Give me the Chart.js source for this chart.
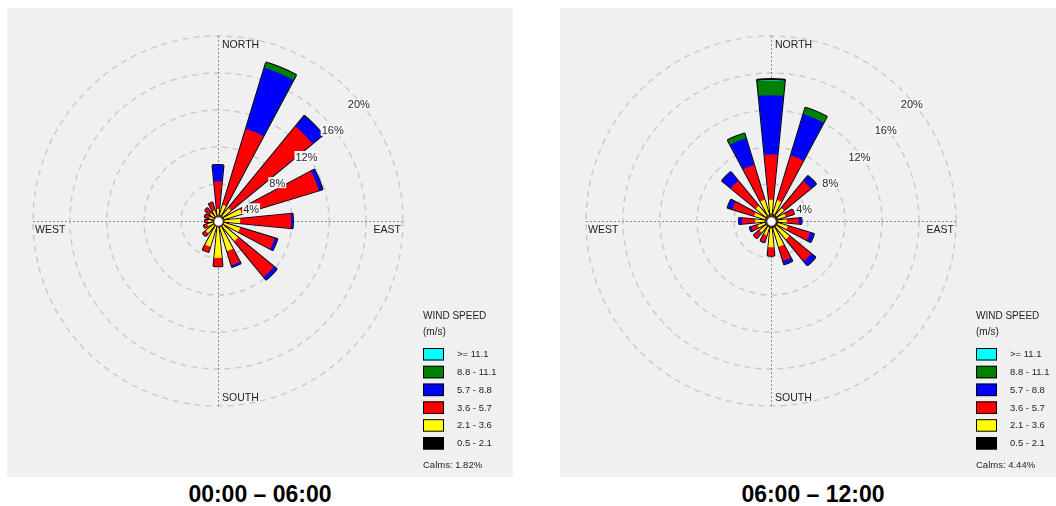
<!DOCTYPE html>
<html><head><meta charset="utf-8">
<script src="https://cdn.jsdelivr.net/npm/chart.js@4.4.1/dist/chart.umd.min.js"></script>
<style>
html,body{margin:0;padding:0;background:#fff;width:1056px;height:506px;overflow:hidden;position:relative;font-family:'Liberation Sans',Arial,sans-serif}
.panel{position:absolute;top:8px;width:506px;height:469px;background:#f0f0f0;overflow:hidden}
.panel canvas{display:block}
.title{position:absolute;top:482px;width:506px;text-align:center;font-weight:bold;font-size:23px;line-height:24px;color:#000;white-space:nowrap}
</style></head><body>
<div class="panel" style="left:7px"><canvas id="c1" width="506" height="469"></canvas></div>
<div class="panel" style="left:560px"><canvas id="c2" width="506" height="469"></canvas></div>
<div class="title" style="left:7px">00:00 – 06:00</div>
<div class="title" style="left:560px">06:00 – 12:00</div>
<script>
// ---- data ----
const directions = ['N','NNE','NE','ENE','E','ESE','SE','SSE','S','SSW','SW','WSW','W','WNW','NW','NNW'];
const speedClasses = ['0.5 - 2.1','2.1 - 3.6','3.6 - 5.7','5.7 - 8.8','8.8 - 11.1','>= 11.1'];
const ringTicks = [4, 8, 12, 16, 20];
const compassLabels = ['NORTH', 'EAST', 'SOUTH', 'WEST'];

// 00:00 - 06:00, frequency (%) per speed class and direction
const night_0p5_2p1 = [0.7,0.7,0.7,0.7,0.7,0.7,0.7,0.7,0.7,0.6,0.6,0.6,0.7,0.6,0.6,0.6];
const night_2p1_3p6 = [0.6,1.1,1.1,2.0,1.7,1.8,2.1,2.7,3.3,2.3,1.1,0.6,0.4,0.4,0.5,0.6];
const night_3p6_5p7 = [3.0,8.6,11.4,8.7,5.5,3.9,5.0,1.6,0.9,0.6,0.4,0.4,0.3,0.5,0.7,0.9];
const night_5p7_8p8 = [1.75,6.9,1.5,0.4,0.2,0.3,0.4,0.2,0,0,0,0,0,0,0,0];
const night_8p8_11p1 = [0,0.6,0,0,0,0,0,0,0,0,0,0,0,0,0,0];
const night_ge11p1 = [0,0,0,0,0,0,0,0,0,0,0,0,0,0,0,0];
const nightCalms = 1.82;

// 06:00 - 12:00
const morning_0p5_2p1 = [0.8,0.8,0.8,0.8,0.8,0.8,0.8,0.8,0.8,0.7,0.7,0.7,0.7,0.7,0.7,0.7];
const morning_2p1_3p6 = [1.5,1.55,1.0,0.85,0.9,1.1,1.75,2.1,2.05,0.9,0.9,0.8,1.0,1.2,1.4,1.7];
const morning_3p6_5p7 = [4.9,5.05,3.75,0.95,1.3,2.5,3.05,1.6,0.9,0.8,0.8,0.7,1.45,2.45,3.5,3.95];
const morning_5p7_8p8 = [6.4,4.65,0.75,0,0.3,0.45,0.6,0.4,0,0,0,0.2,0.3,0.55,1.25,3.0];
const morning_8p8_11p1 = [1.6,0.75,0,0,0,0,0,0,0,0,0,0,0,0,0,0.55];
const morning_ge11p1 = [0.15,0,0,0,0,0,0,0,0,0,0,0,0,0,0,0];
const morningCalms = 4.44;

// ---- styles ----
const classColors = ['#000000','#ffff00','#ff0000','#0000ff','#008000','#00ffff'];
const FONT = "'Liberation Sans', Arial, sans-serif";

const roseDecor = {
  id: 'roseDecor',
  beforeDatasetsDraw(chart) {
    const s = chart.scales.r, ctx = chart.ctx;
    const xc = s.xCenter, yc = s.yCenter, R = s.drawingArea;
    ctx.save();
    ctx.strokeStyle = '#8c8c8c'; ctx.lineWidth = 1; ctx.setLineDash([2, 2]);
    ctx.beginPath();
    ctx.moveTo(xc - R, yc + 0.5); ctx.lineTo(xc + R, yc + 0.5);
    ctx.moveTo(xc + 0.5, yc - R); ctx.lineTo(xc + 0.5, yc + R);
    ctx.stroke();
    ctx.restore();
  },
  afterDatasetsDraw(chart) {
    const s = chart.scales.r, ctx = chart.ctx;
    const xc = s.xCenter, yc = s.yCenter;
    ctx.save();
    // calm circle
    ctx.beginPath();
    ctx.arc(xc + 0.5, yc + 0.5, 5, 0, Math.PI * 2);
    ctx.fillStyle = '#ffffff'; ctx.fill();
    ctx.lineWidth = 1.5; ctx.strokeStyle = '#333'; ctx.stroke();
    // ring labels
    ctx.font = '11px ' + FONT;
    ctx.textAlign = 'left'; ctx.textBaseline = 'alphabetic';
    ringTicks.forEach(v => {
      const r = s.getDistanceFromCenterForValue(v);
      const x = xc + r * Math.SQRT1_2 - 1;
      const top = yc - r * Math.SQRT1_2 + 10;
      const t = v + '%';
      const w = ctx.measureText(t).width;
      ctx.fillStyle = '#f7f7f7';
      ctx.fillRect(x - 1, top - 1.5, w + 2, 11);
      ctx.fillStyle = '#2a2a2a';
      ctx.fillText(t, x, top + 8);
    });
    ctx.restore();
  },
  afterDraw(chart, args, opts) {
    const s = chart.scales.r, ctx = chart.ctx;
    const xc = s.xCenter, yc = s.yCenter, R = s.drawingArea;
    ctx.save();
    ctx.fillStyle = '#1e1e1e';
    ctx.font = '10.5px ' + FONT;
    ctx.textBaseline = 'middle';
    ctx.textAlign = 'left';
    ctx.fillText(compassLabels[0], xc + 4, yc - 176);
    ctx.fillText(compassLabels[2], xc + 4, yc + 177);
    ctx.fillText(compassLabels[3], xc - R + 2, yc + 9);
    ctx.textAlign = 'right';
    ctx.fillText(compassLabels[1], xc + R - 2, yc + 9.5);
    // legend
    const lx = xc + 205;
    ctx.textAlign = 'left';
    ctx.font = '10px ' + FONT;
    ctx.fillText('WIND SPEED', lx, yc + 95.5);
    ctx.fillText('(m/s)', lx, yc + 111.5);
    ctx.font = '9.5px ' + FONT;
    for (let i = 0; i < speedClasses.length; i++) {
      const k = speedClasses.length - 1 - i;
      const top = yc + 127 + i * 17.8;
      ctx.fillStyle = classColors[k];
      ctx.fillRect(lx, top, 21, 12.5);
      ctx.lineWidth = 1; ctx.strokeStyle = '#000';
      ctx.strokeRect(lx + 0.5, top + 0.5, 20, 11.5);
      ctx.fillStyle = '#1e1e1e';
      ctx.fillText(speedClasses[k], lx + 34, top + 6.5);
    }
    ctx.fillText('Calms: ' + opts.calms.toFixed(2) + '%', lx, yc + 244.7);
    ctx.restore();
  }
};

function buildChart(id, classValues, calms) {
  const cum = [];
  let running = directions.map(() => 0);
  classValues.forEach(vals => {
    running = running.map((r, i) => r + vals[i]);
    cum.push(running.slice());
  });
  const labels = [];
  directions.forEach(d => { labels.push(d); labels.push(''); });
  const last = cum.length - 1;
  const datasets = cum.map((c, k) => ({
    label: speedClasses[k],
    data: c.flatMap(v => [Math.round(v * 100) / 100, 0]),
    backgroundColor: classColors[k],
    borderColor: '#000000',
    borderWidth: k === last ? (ctx => (ctx.raw ? 2 : 0)) : 0
  }));
  return new Chart(document.getElementById(id), {
    type: 'polarArea',
    data: { labels, datasets },
    options: {
      responsive: false,
      animation: false,
      layout: { padding: { left: 26, top: 28, right: 110, bottom: 71 } },
      plugins: { legend: { display: false }, tooltip: { enabled: false }, roseDecor: { calms } },
      scales: {
        r: {
          min: 0, max: 20, startAngle: -5.625,
          ticks: { display: false, stepSize: 4 },
          grid: { color: 'rgba(185,185,185,0.7)', lineWidth: 1.4, circular: true },
          border: { dash: [6, 5] },
          angleLines: { display: false },
          pointLabels: { display: false }
        }
      }
    },
    plugins: [roseDecor]
  });
}

buildChart('c1', [night_0p5_2p1, night_2p1_3p6, night_3p6_5p7, night_5p7_8p8, night_8p8_11p1, night_ge11p1], nightCalms);
buildChart('c2', [morning_0p5_2p1, morning_2p1_3p6, morning_3p6_5p7, morning_5p7_8p8, morning_8p8_11p1, morning_ge11p1], morningCalms);
</script>
</body></html>
